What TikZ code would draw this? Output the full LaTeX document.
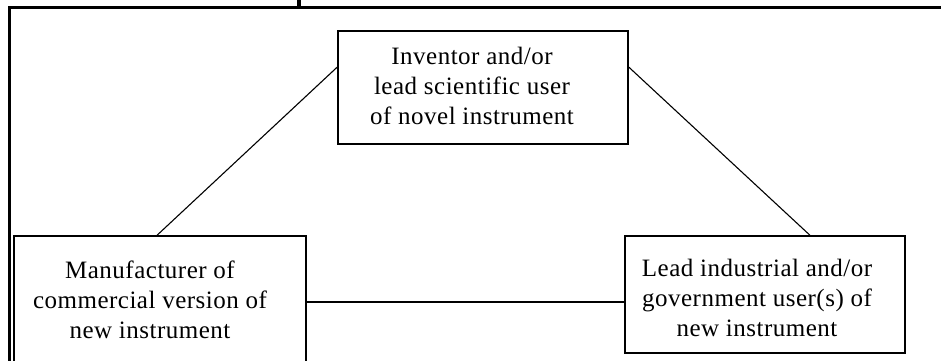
\documentclass[tikz,border=0pt]{standalone}
\usepackage{fontspec}
\setmainfont[LetterSpace=2]{Liberation Serif}
\begin{document}
\begin{tikzpicture}[x=1pt,y=-1pt,
  box/.style={draw=black,line width=1.4pt,minimum width=#1,inner sep=0pt},
  lbl/.style={align=center,inner sep=0pt,font=\fontsize{25}{30}\selectfont},
  conn/.style={draw=black,line width=1.1pt},
  frame/.style={draw=black,line width=3pt}]
\useasboundingbox (0,0) rectangle (941,360);
\clip (0,0) rectangle (941,360);
% outer frame (partly cut off)
\draw[frame] (9,370) -- (9,7) -- (950,7);
\fill[black] (297,0) rectangle (301,6);
% boxes
\node[box=290pt,minimum height=113pt] (top) at (483,87.5) {};
\node[box=292pt,minimum height=132pt] (left) at (160,302) {};
\node[box=280pt,minimum height=117pt] (right) at (765,294.5) {};
% labels
\node[lbl] (toptext) at (472,86) {Inventor and/or\\lead scientific user\\of novel instrument};
\node[lbl] (lefttext) at (150,300) {Manufacturer of\\commercial version of\\new instrument};
\node[lbl] (righttext) at (757,298) {Lead industrial and/or\\government user(s) of\\new instrument};
% connectors
\draw[conn] ([xshift=-3pt]left.north) -- (top.172);
\draw[conn] (top.8) -- ([xshift=45pt]right.north);
\draw[conn] (left.east) -- (left.east -| right.west);
\end{tikzpicture}
\end{document}
